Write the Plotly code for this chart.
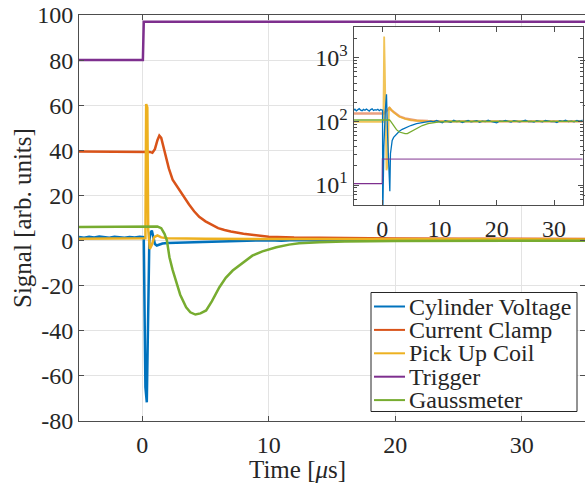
import plotly.graph_objects as go

# ---------------- main panel: signals vs time (µs) ----------------
cv_t = [-5, -4.6, -4.2, -3.8, -3.4, -3.0, -2.6, -2.2, -1.8, -1.4, -1.0, -0.6, -0.2, 0.05,
        0.12, 0.18, 0.25, 0.36, 0.45, 0.5, 0.56, 0.65, 0.76, 0.9, 1.0, 1.15, 1.3, 1.6,
        2.0, 2.5, 3.0, 3.5, 4.0, 4.5, 5.0, 5.5, 6.0, 7.0, 8.0, 9.0, 10, 11, 12, 13, 14,
        15, 16, 17, 18, 19, 20, 21, 22, 23, 24, 25, 26, 27, 28, 29, 30, 31, 32, 33, 34, 35]
cv_v = [1.6, 1.3, 1.7, 1.4, 1.8, 1.5, 1.3, 1.7, 1.5, 1.2, 1.6, 1.4, 1.7, 1.5,
        1.5, -30, -65, -71.7, -45, -20, 0, 3.5, 4.4, 1.0, -1.5, -2.2, -1.8, -1.3,
        -1.1, -1.0, -0.9, -0.8, -0.8, -0.7, -0.6, -0.5, -0.4, -0.3, -0.1, 0.0, 0.1, -0.1, 0.2, 0.0, 0.1,
        -0.1, 0.2, 0.0, 0.1, 0.2, 0.0, 0.1, -0.1, 0.2, 0.1, 0.0, 0.2, 0.1, -0.1, 0.1, 0.2, 0.0, 0.1, 0.2, 0.0, 0.1]

cc_t = [-5, -3, -1, 0, 0.4, 0.6, 0.8, 1.0, 1.2, 1.35, 1.5, 1.7, 1.9, 2.1, 2.4, 2.7, 3.0,
        3.3, 3.7, 4.1, 4.5, 5.0, 5.5, 6.0, 6.5, 7.0, 8.0, 9.0, 10, 12, 15, 20, 25, 30, 35]
cc_v = [39.5, 39.5, 39.4, 39.5, 39.4, 39.3, 38.9, 40.5, 44.5, 46.5, 45.5, 41, 36, 32, 27, 24.5, 22,
        19, 16, 13, 10.5, 8.5, 7, 5.5, 4.7, 4.0, 3.0, 2.2, 1.7, 1.3, 1.1, 0.9, 0.8, 0.75, 0.7]

pc_t = [-5, -1, 0.1, 0.25, 0.31, 0.36, 0.40, 0.47, 0.6, 0.75, 0.95, 1.2, 1.5, 2.0, 3.0,
        5.0, 10, 20, 35]
pc_v = [0.8, 0.8, 0.9, 1.0, 60.5, 60.0, 59.0, 5.0, -3.7, -2.0, 1.5, 2.3, 1.4, 1.0, 0.9,
        0.8, 0.7, 0.6, 0.5]

tr_t = [-5, 0.05, 0.12, 35]
tr_v = [80, 80, 97, 97]

gm_t = [-5, -1, 0.5, 1.2, 1.5, 1.76, 1.95, 2.15, 2.4, 2.7, 3.0, 3.47, 3.8, 4.2, 4.6, 5.05,
        5.5, 6.1, 6.6, 7.15, 8.0, 8.7, 9.5, 10.6, 11.6, 12.4, 14, 16, 20, 25, 35]
gm_v = [6.0, 6.0, 6.1, 6.2, 5.5, 3.0, 0.0, -7.4, -13, -19, -24, -29.6, -31.8, -32.8, -32.3, -31,
        -27, -20.7, -16.5, -13.3, -9.5, -6.7, -4.8, -3.0, -1.8, -1.2, -0.7, -0.4, -0.2, -0.1, -0.1]

# ---------------- inset: same signals on a log scale ----------------
icv_pre = [148, 155, 146, 152, 158, 150, 147, 154, 149, 156, 151, 145, 153, 157, 148, 152,
           150, 155, 147, 153, 150]              # every 0.25 µs from -5 to 0
icv_tr_t = [0.07, 0.1, 0.3, 0.55, 0.76, 0.95, 1.15, 1.34, 1.45, 1.75, 2.0, 2.5, 3.0, 3.5,
            4.3, 5.0, 6.0, 7.0, 8.0]
icv_tr_v = [150, 3, 40, 150, 265, 60, 15, 8, 31, 50, 56, 64, 70, 75, 81, 86, 92, 96, 100]
icv_post = [101, 98, 103, 99, 95, 102, 100, 97, 104, 99, 101, 96, 100, 103, 98, 100, 102, 97,
            101, 99, 104, 100, 98, 95, 101, 100, 103, 99, 97, 102, 100, 98, 101, 104, 99, 100,
            97, 102, 100, 98, 103, 101, 99, 100, 96, 102, 100, 104, 99, 101, 98, 103, 100, 105]  # every 0.5 µs from 8.5

icc_t = [-5, 0.3, 0.5, 1.0, 1.3, 1.6, 2.0, 3.0, 4.0, 5.0, 6.0, 8.0, 10, 35]
icc_v = [133, 133, 140, 155, 162, 150, 140, 120, 111, 106, 103, 101, 100, 100]

ipc_t = [-5, 0.2, 0.28, 0.35, 0.45, 0.6, 0.76, 0.95, 1.1, 1.2, 1.4, 2.0, 3.0, 4.0, 5.0, 6.0, 8.0, 35]
ipc_v = [98, 98, 400, 2140, 800, 60, 17, 20, 100, 168, 160, 138, 118, 109, 104, 102, 100, 100]

itr_t = [-5, 0.0, 0.05, 35]
itr_v = [10.5, 10.5, 25.5, 25.5]

igm_t = [-5, 1.3, 1.5, 2.0, 2.5, 3.0, 3.5, 4.0, 4.4, 5.0, 6.0, 7.0, 8.0, 9.0, 10, 12, 35]
igm_v = [105, 105, 100, 85, 74, 68, 65, 64, 64, 69, 78, 86, 92, 96, 98, 99.5, 100]

names = ["Cylinder Voltage", "Current Clamp", "Pick Up Coil", "Trigger", "Gaussmeter"]
colors = ["#0072BD", "#D95319", "#EDB120", "#7E2F8E", "#77AC30"]

x_ticks = [0, 10, 20, 30]
y_ticks = [-80, -60, -40, -20, 0, 20, 40, 60, 80, 100]
y_labels = ["-80", "-60", "-40", "-20", "0", "20", "40", "60", "80", "100"]
iy_ticks = [10, 100, 1000]
iy_labels = ["10<sup>1</sup>", "10<sup>2</sup>", "10<sup>3</sup>"]

icv_pre_t = [-5 + 0.25 * i for i in range(len(icv_pre))]
icv_post_t = [8.5 + 0.5 * i for i in range(len(icv_post))]
icv_t = icv_pre_t + icv_tr_t + icv_post_t
icv_v = icv_pre + icv_tr_v + icv_post

FONT = "Liberation Serif"
INK = "#262626"
W, H = 585, 483
ML, MR, MT, MB = 79, 0, 15, 62
PW, PH = W - ML - MR, H - MT - MB


def px(x):
    return (x - ML) / PW


def py(y):
    return (H - MB - y) / PH


fig = go.Figure()

main = [(cv_t, cv_v), (cc_t, cc_v), (pc_t, pc_v), (tr_t, tr_v), (gm_t, gm_v)]
for (t, v), name, col in zip(main, names, colors):
    fig.add_trace(go.Scatter(x=t, y=v, mode="lines", name=name, showlegend=False,
                             line=dict(color=col, width=2.5), xaxis="x", yaxis="y"))

# inset traces
fig.add_trace(go.Scatter(x=icc_t, y=icc_v, mode="lines", showlegend=False, opacity=0.55,
                         line=dict(color=colors[1], width=2.4), xaxis="x2", yaxis="y2"))
fig.add_trace(go.Scatter(x=ipc_t, y=ipc_v, mode="lines", showlegend=False, opacity=0.75,
                         line=dict(color=colors[2], width=1.8), xaxis="x2", yaxis="y2"))
fig.add_trace(go.Scatter(x=icv_t, y=icv_v, mode="lines", showlegend=False,
                         line=dict(color=colors[0], width=1.3), xaxis="x2", yaxis="y2"))
fig.add_trace(go.Scatter(x=igm_t, y=igm_v, mode="lines", showlegend=False,
                         line=dict(color=colors[4], width=1.3), xaxis="x2", yaxis="y2"))
fig.add_trace(go.Scatter(x=itr_t[:2], y=itr_v[:2], mode="lines", showlegend=False,
                         line=dict(color=colors[3], width=1.4), xaxis="x2", yaxis="y2"))
fig.add_trace(go.Scatter(x=itr_t[1:], y=itr_v[1:], mode="lines", showlegend=False, opacity=0.55,
                         line=dict(color=colors[3], width=1.6), xaxis="x2", yaxis="y2"))

axis_common = dict(showline=True, linecolor="#4d4d4d", linewidth=1, mirror="allticks",
                   ticks="inside", ticklen=5, tickcolor="#4d4d4d",
                   tickfont=dict(family=FONT, size=24, color=INK), zeroline=False)

minor_vals = [m * 10 ** k for k in range(0, 4) for m in range(2, 10)]

fig.update_layout(
    width=W, height=H,
    margin=dict(l=ML, r=MR, t=MT, b=MB),
    paper_bgcolor="white", plot_bgcolor="white",
    font=dict(family=FONT, color=INK),
    xaxis=dict(range=[-5, 35], domain=[0, 1], tickvals=x_ticks, showgrid=True,
               gridcolor="#e3e3e3", anchor="y", ticklabelstandoff=2, **axis_common),
    yaxis=dict(range=[-80, 100], domain=[0, 1], tickvals=y_ticks, ticktext=y_labels,
               showgrid=True, gridcolor="#e3e3e3", anchor="x", **axis_common),
    xaxis2=dict(range=[-5, 35], domain=[px(353.5), px(582.7)], tickvals=x_ticks,
                showgrid=False, anchor="y2", ticklabelstandoff=2, **axis_common),
    yaxis2=dict(type="log", range=[0.686, 3.477], domain=[py(205), py(27.3)],
                tickvals=iy_ticks, ticktext=iy_labels, showgrid=False, anchor="x2",
                minor=dict(ticks="inside", ticklen=3, tickcolor="#4d4d4d", tickvals=minor_vals,
                           showgrid=False),
                **axis_common),
    showlegend=False,
)

# axis titles
fig.add_annotation(text="Time [<i>μ</i>s]", xref="paper", yref="paper", x=px(297), y=py(470),
                   xanchor="center", yanchor="middle", showarrow=False,
                   font=dict(family=FONT, size=25, color=INK))
fig.add_annotation(text="Signal [arb. units]", xref="paper", yref="paper", x=px(22), y=py(218),
                   xanchor="center", yanchor="middle", textangle=-90, showarrow=False,
                   font=dict(family=FONT, size=25, color=INK))

# legend box
lx0, lx1, ly0, ly1 = 371, 577, 292.5, 411.5
fig.add_shape(type="rect", xref="paper", yref="paper", x0=px(lx0), x1=px(lx1), y0=py(ly1), y1=py(ly0),
              line=dict(color=INK, width=1), fillcolor="white", layer="above")
row0, step = 306.5, 23.4
for i, (name, col) in enumerate(zip(names, colors)):
    yc = row0 + i * step
    fig.add_shape(type="line", xref="paper", yref="paper", x0=px(374), x1=px(405),
                  y0=py(yc), y1=py(yc), line=dict(color=col, width=2), layer="above")
    fig.add_annotation(text=name, xref="paper", yref="paper", x=px(407), y=py(yc),
                       xanchor="left", yanchor="middle", showarrow=False,
                       font=dict(family=FONT, size=24, color=INK))

fig.write_html("out.html")
